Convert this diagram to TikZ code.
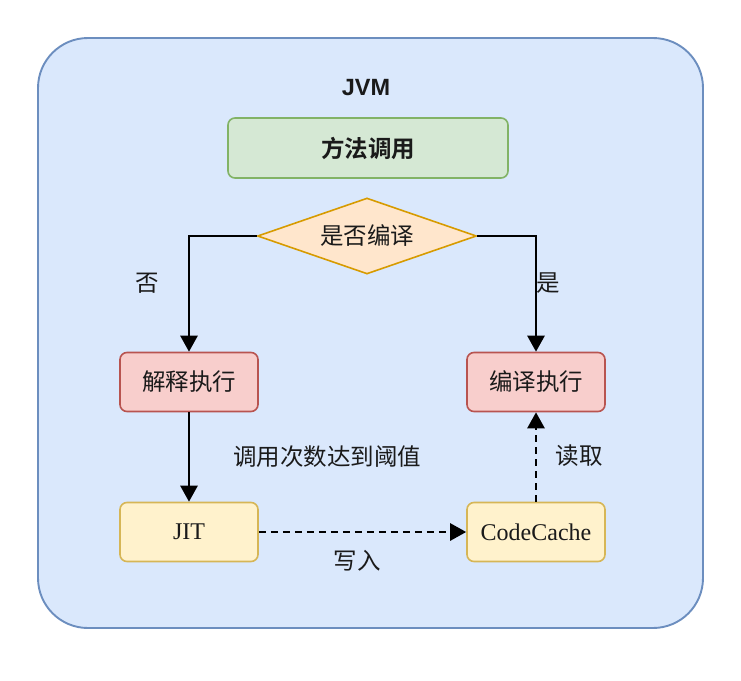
\documentclass[tikz,border=0pt]{standalone}
\usepackage{fontspec}
\setmainfont{Liberation Serif}
\newfontfamily\cjk{Noto Sans CJK SC}
\newfontfamily\cjkb{Noto Sans CJK SC Bold}
\newfontfamily\arialb{Liberation Sans}
\usetikzlibrary{shapes.geometric,arrows.meta}
\definecolor{outerfill}{HTML}{DAE8FC}
\definecolor{outerdraw}{HTML}{6C8EBF}
\definecolor{gfill}{HTML}{D5E8D4}
\definecolor{gdraw}{HTML}{82B366}
\definecolor{ofill}{HTML}{FFE6CC}
\definecolor{odraw}{HTML}{D79B00}
\definecolor{rfill}{HTML}{F8CECC}
\definecolor{rdraw}{HTML}{B85450}
\definecolor{yfill}{HTML}{FFF2CC}
\definecolor{ydraw}{HTML}{D6B656}
\definecolor{txt}{HTML}{1A1A1A}
\begin{document}
\begin{tikzpicture}[x=1pt,y=-1pt,
  box/.style={rounded corners=7pt, line width=1.6pt, minimum width=138pt, minimum height=59pt, inner sep=0pt, text=txt},
  greenbox/.style={box, fill=gfill, draw=gdraw, minimum width=280pt, minimum height=60pt},
  redbox/.style={box, fill=rfill, draw=rdraw},
  yellowbox/.style={box, fill=yfill, draw=ydraw},
  decision/.style={diamond, aspect=2.88, fill=ofill, draw=odraw, line width=1.6pt, minimum width=219pt, minimum height=76pt, inner sep=0pt, text=txt},
  conn/.style={line width=2.6pt, draw=black, -{Triangle[length=16pt,width=17pt]}},
  dconn/.style={conn, dash pattern=on 7pt off 5pt},
  lbl/.style={text=txt, inner sep=0pt, font=\cjk\fontsize{23.5}{27}\selectfont},
  cjkfont/.style={font=\cjk\fontsize{23.5}{27}\selectfont},
  cjkbold/.style={font=\cjkb\fontsize{23.5}{27}\selectfont},
  serif/.style={font=\fontsize{24}{28}\selectfont}
]
\useasboundingbox (0,0) rectangle (741,680);
\fill[white] (0,0) rectangle (741,680);
\draw[fill=outerfill, draw=outerdraw, line width=1.9pt, rounded corners=50pt] (38,38) rectangle (703,628);
\node[text=txt, font=\arialb\bfseries\fontsize{23.5}{27}\selectfont] (jvm) at (366,88) {JVM};
\node[greenbox, cjkbold] (call) at (368,148) {方法调用};
\node[decision, cjkfont] (dec) at (367,236) {是否编译};
\node[redbox, cjkfont] (interp) at (189,382) {解释执行};
\node[redbox, cjkfont] (comp) at (536,382) {编译执行};
\node[yellowbox, serif] (jit) at (189,532) {JIT};
\node[yellowbox, serif] (cache) at (536,532) {CodeCache};
\draw[conn] (dec.west) -| (interp.north);
\draw[conn] (dec.east) -| (comp.north);
\draw[conn] (interp.south) -- (jit.north);
\draw[dconn] (jit.east) -- (cache.west);
\draw[dconn] (cache.north) -- (comp.south);
\node[lbl] (no) at (147,283) {否};
\node[lbl] (yes) at (548,283) {是};
\node[lbl] (thr) at (327,457) {调用次数达到阈值};
\node[lbl] (write) at (357,561) {写入};
\node[lbl] (read) at (579,456) {读取};
\end{tikzpicture}
\end{document}
